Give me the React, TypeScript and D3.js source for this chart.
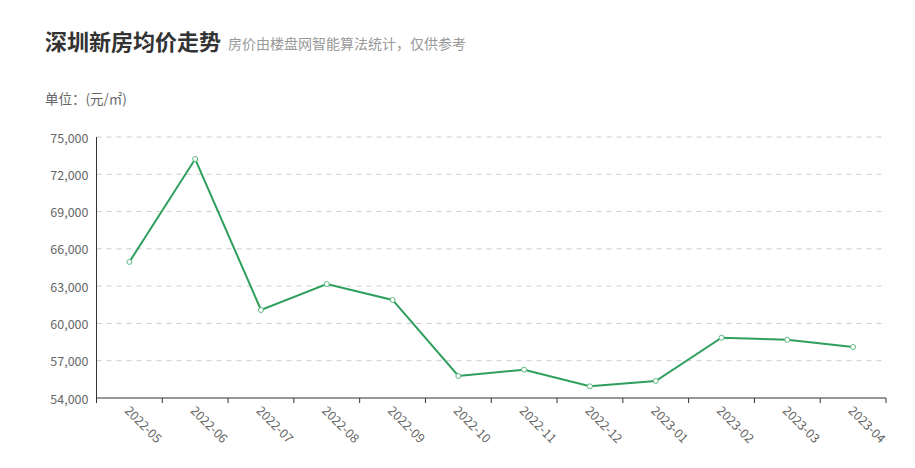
import * as d3 from 'd3';

// ---------------------------------------------------------------------------
// Data
// ---------------------------------------------------------------------------
const MONTHS = [
  '2022-05', '2022-06', '2022-07', '2022-08', '2022-09', '2022-10',
  '2022-11', '2022-12', '2023-01', '2023-02', '2023-03', '2023-04',
];
const PRICES = [
  64950, 73230, 61080, 63170, 61890, 55770,
  56280, 54940, 55370, 58850, 58690, 58100,
];
const Y_TICKS = [54000, 57000, 60000, 63000, 66000, 69000, 72000, 75000];

const GREEN = '#2e9f5c';
const LABEL_COLOR = '#666';
const AXIS_COLOR = '#333';
const GRID_COLOR = '#ccc';
const FONT = '"Microsoft YaHei", "Noto Sans CJK SC", "Noto Sans", sans-serif';

export default function App() {
  const width = 915;
  const height = 468;
  const margin = { top: 137, right: 29, bottom: 70, left: 96.5 };
  const innerW = width - margin.left - margin.right;
  const innerH = height - margin.top - margin.bottom;

  const x = d3.scaleBand<string>().domain(MONTHS).range([0, innerW]);
  const y = d3.scaleLinear().domain([54000, 75000]).range([innerH, 0]);
  const fmt = d3.format(',');

  const pts = MONTHS.map((m, i) => ({ m, v: PRICES[i] }));
  const line = d3
    .line<{ m: string; v: number }>()
    .x((d) => (x(d.m) ?? 0) + x.bandwidth() / 2)
    .y((d) => y(d.v));

  const boundaries = [...MONTHS.map((m) => x(m) ?? 0), innerW];

  return (
    <svg
      width={width}
      height={height}
      style={{ position: 'absolute', left: 0, top: 0, fontFamily: FONT }}
    >
      {/* Title */}
      <text x={45} y={50} fontSize={22} fontWeight="bold" fill="#333">
        深圳新房均价走势
      </text>
      <text x={228} y={49} fontSize={14} fill="#999">
        房价由楼盘网智能算法统计，仅供参考
      </text>
      <text x={45} y={104} fontSize={13.5} fill={LABEL_COLOR}>
        单位：(元/㎡)
      </text>

      <g transform={`translate(${margin.left},${margin.top})`}>
        {/* Grid */}
        {Y_TICKS.filter((t) => t !== 54000).map((t) => (
          <line
            key={t}
            x1={0}
            x2={innerW}
            y1={y(t)}
            y2={y(t)}
            stroke={GRID_COLOR}
            strokeDasharray="5,5"
          />
        ))}

        {/* Y labels */}
        {Y_TICKS.map((t) => (
          <text
            key={t}
            x={-8}
            y={y(t)}
            textAnchor="end"
            dominantBaseline="central"
            fontSize={12.5}
            fill={LABEL_COLOR}
          >
            {fmt(t)}
          </text>
        ))}

        {/* Axes */}
        <line x1={0} x2={0} y1={0} y2={innerH} stroke={AXIS_COLOR} />
        <line x1={0} x2={innerW} y1={innerH} y2={innerH} stroke={AXIS_COLOR} />
        {boundaries.map((b, i) => (
          <line key={i} x1={b} x2={b} y1={innerH} y2={innerH + 5} stroke={AXIS_COLOR} />
        ))}

        {/* X labels */}
        {MONTHS.map((m) => {
          const cx = (x(m) ?? 0) + x.bandwidth() / 2;
          return (
            <text
              key={m}
              transform={`translate(${cx + 3},${innerH + 5}) rotate(45)`}
              fontSize={12.5}
              fill={LABEL_COLOR}
              dominantBaseline="hanging"
            >
              {m}
            </text>
          );
        })}

        {/* Line */}
        <path d={line(pts) ?? ''} fill="none" stroke={GREEN} strokeWidth={2} />
        {pts.map((d) => (
          <circle
            key={d.m}
            cx={(x(d.m) ?? 0) + x.bandwidth() / 2}
            cy={y(d.v)}
            r={2.5}
            fill="#fff"
            stroke="#5cb87f"
            strokeWidth={1}
          />
        ))}
      </g>
    </svg>
  );
}
